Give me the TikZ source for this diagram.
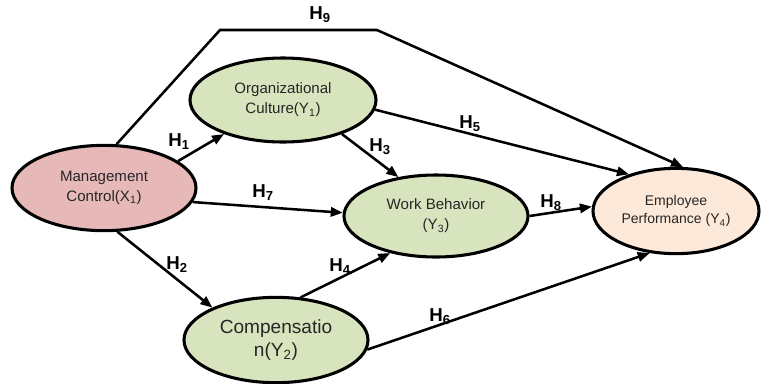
\documentclass[tikz,border=0pt]{standalone}
\usepackage{fontspec}
\setmainfont{Liberation Sans}
\usetikzlibrary{arrows.meta,shapes.geometric}
\definecolor{ctrlpink}{HTML}{E6B9B8}
\definecolor{medgreen}{HTML}{D7E4BD}
\definecolor{outpeach}{HTML}{FDE9D9}
\definecolor{labelink}{HTML}{262626}
\tikzset{
  varnode/.style={
    ellipse, draw=black, line width=2.3pt, inner sep=0pt,
    minimum width=138pt, minimum height=64pt, align=center,
    text=labelink, font=\fontsize{11.3}{15}\selectfont
  },
  hyparrow/.style={-{Triangle[length=9pt,width=7pt]}, line width=1.9pt, color=black},
  hypline/.style={line width=1.9pt, color=black},
  hyplabel/.style={font=\fontsize{14}{16}\selectfont\bfseries, inner sep=1pt},
}
\begin{document}
\begin{tikzpicture}[x=0.75pt, y=-0.75pt]
  \useasboundingbox (0,0) rectangle (764,383);
  \node[varnode, fill=ctrlpink] (mc) at (104,188) {Management\\Control(X\textsubscript{1})};
  \node[varnode, fill=medgreen, minimum width=139.5pt, minimum height=63pt] (oc) at (283,100) {Organizational\\Culture(Y\textsubscript{1})};
  \node[varnode, fill=medgreen, minimum height=61.5pt] (wb) at (436,216) {Work Behavior\\(Y\textsubscript{3})};
  \node[varnode, fill=outpeach, minimum width=124.5pt, font=\fontsize{10.5}{14}\selectfont] (ep) at (676,211) {Employee\\Performance (Y\textsubscript{4})};
  \node[varnode, fill=medgreen, font=\fontsize{14.3}{17}\selectfont] (cm) at (276,340) {Compensatio\\n(Y\textsubscript{2})};
  \coordinate (h9left) at (220,30);
  \coordinate (h9right) at (377,30);
  % hypothesis paths
  \foreach \a/\b in {mc.20/oc.210,mc.-73/cm.153,oc.-30/wb.134,cm.60/wb.219,
                     oc.-6/ep.142,cm.-6/ep.238,mc.-9/wb.178,wb.0/ep.177}
    \draw[hyparrow] (\a) -- (\b);
  \draw[hypline] (mc.74) -- (h9left) -- (h9right);
  \draw[hyparrow] (h9right) -- (ep.81);
  % labels
  \foreach \n/\x/\y in {1/179/142,2/177/265,3/380/147,4/340/267,5/470/124,
                        6/440/317,7/263/193,8/551/203,9/320/15}
    \node[hyplabel] (h\n) at (\x,\y) {H\textsubscript{\n}};
\end{tikzpicture}
\end{document}
